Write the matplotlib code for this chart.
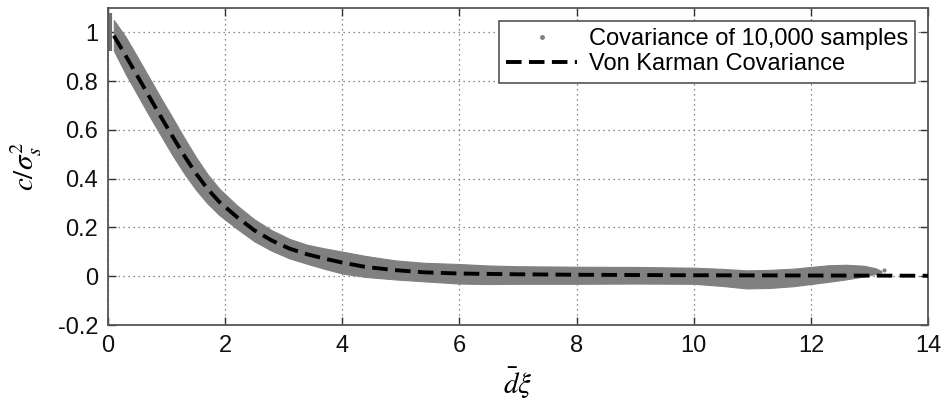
import matplotlib
matplotlib.use("Agg")
import matplotlib.pyplot as plt
from matplotlib.lines import Line2D

plt.rcParams['font.family'] = ['Liberation Sans', 'DejaVu Sans']
plt.rcParams['mathtext.fontset'] = 'stix'

# Sample covariance band (gray scatter cloud)
band_x = [0.1, 0.3, 0.5, 0.7, 0.9, 1.1, 1.3, 1.5, 1.7, 1.9, 2.2, 2.5, 2.8, 3.1,
          3.4, 3.7, 4.0, 4.4, 4.9, 5.4, 6.0, 6.5, 7.0, 8.0, 9.0, 10.0, 10.5,
          10.9, 11.3, 11.7, 12.0, 12.3, 12.6, 12.9, 13.1, 13.2]
band_lo = [0.925, 0.830, 0.745, 0.660, 0.578, 0.497, 0.422, 0.355, 0.298, 0.251,
           0.195, 0.143, 0.104, 0.073, 0.051, 0.030, 0.011, -0.003, -0.013,
           -0.021, -0.030, -0.032, -0.031, -0.031, -0.030, -0.031, -0.040,
           -0.050, -0.048, -0.041, -0.032, -0.023, -0.013, -0.001, 0.009, 0.014]
band_hi = [1.050, 0.982, 0.900, 0.816, 0.732, 0.651, 0.568, 0.489, 0.418, 0.359,
           0.291, 0.233, 0.188, 0.153, 0.129, 0.114, 0.101, 0.083, 0.065, 0.055,
           0.050, 0.044, 0.041, 0.039, 0.038, 0.035, 0.030, 0.024, 0.026, 0.031,
           0.038, 0.045, 0.047, 0.043, 0.033, 0.022]
# zero-lag samples spread
zero_x = [0.03]
zero_lo = [0.925]
zero_hi = [1.08]
# isolated stray samples
stray_x = [13.25]
stray_y = [0.025]

# Von Karman covariance curve
vk_x = [0.1, 0.3, 0.5, 0.7, 0.9, 1.1, 1.3, 1.5, 1.7, 1.9, 2.2, 2.5, 2.8, 3.1,
        3.4, 3.7, 4.0, 4.4, 4.9, 5.4, 6.0, 7.0, 8.0, 10.0, 12.0, 14.0]
vk_y = [0.986, 0.905, 0.822, 0.738, 0.655, 0.574, 0.495, 0.422, 0.358, 0.305,
        0.243, 0.188, 0.146, 0.113, 0.090, 0.072, 0.056, 0.038, 0.025, 0.016,
        0.011, 0.008, 0.006, 0.004, 0.003, 0.002]

xticks = [0, 2, 4, 6, 8, 10, 12, 14]
yticks = [-0.2, 0, 0.2, 0.4, 0.6, 0.8, 1]
ytick_labels = ['-0.2', '0', '0.2', '0.4', '0.6', '0.8', '1']

fig = plt.figure(figsize=(9.47, 4.04), dpi=100)
ax = fig.add_axes([0.114, 0.1955, 0.866, 0.785])

gray = '#808080'
ax.fill_between(band_x, band_lo, band_hi, color=gray, linewidth=0.8,
                edgecolor=gray, zorder=2)
ax.vlines(zero_x, zero_lo, zero_hi, color='#707070', linewidth=3, zorder=2)
ax.plot(stray_x, stray_y, '.', color=gray, markersize=4, zorder=2)
ax.plot(vk_x, vk_y, color='black', linewidth=2.8, dashes=(4.0, 1.9), zorder=3)

ax.set_xlim(0, 14)
ax.set_ylim(-0.2, 1.1)
ax.set_xticks(xticks)
ax.set_xticklabels([str(t) for t in xticks])
ax.set_yticks(yticks)
ax.set_yticklabels(ytick_labels)
ax.tick_params(direction='in', top=True, right=True, length=6, width=1,
               labelsize=17, colors='#333333', labelcolor='#111111', pad=7)
ax.grid(True, linestyle=(0, (1, 3)), color='#666666', linewidth=0.9)
for s in ax.spines.values():
    s.set_color('#555555')
    s.set_linewidth(1.3)

ax.set_xlabel(r'$\bar{d}\xi$', fontsize=21, labelpad=6)
ax.set_ylabel(r'$c/\sigma_s^2$', fontsize=21, labelpad=10)

handles = [Line2D([], [], marker='.', linestyle='none', color=gray, markersize=5),
           Line2D([], [], color='black', linewidth=2.8, dashes=(4.0, 1.9))]
leg = ax.legend(handles, ['Covariance of 10,000 samples', 'Von Karman Covariance'],
                loc='upper right', fontsize=17, frameon=True, fancybox=False,
                framealpha=1, edgecolor='#444444', borderaxespad=0.55,
                handlelength=3.0, handletextpad=0.5, labelspacing=0.15,
                borderpad=0.3)
leg.get_frame().set_linewidth(1.1)

fig.savefig('out.png', dpi=100, facecolor='white')
